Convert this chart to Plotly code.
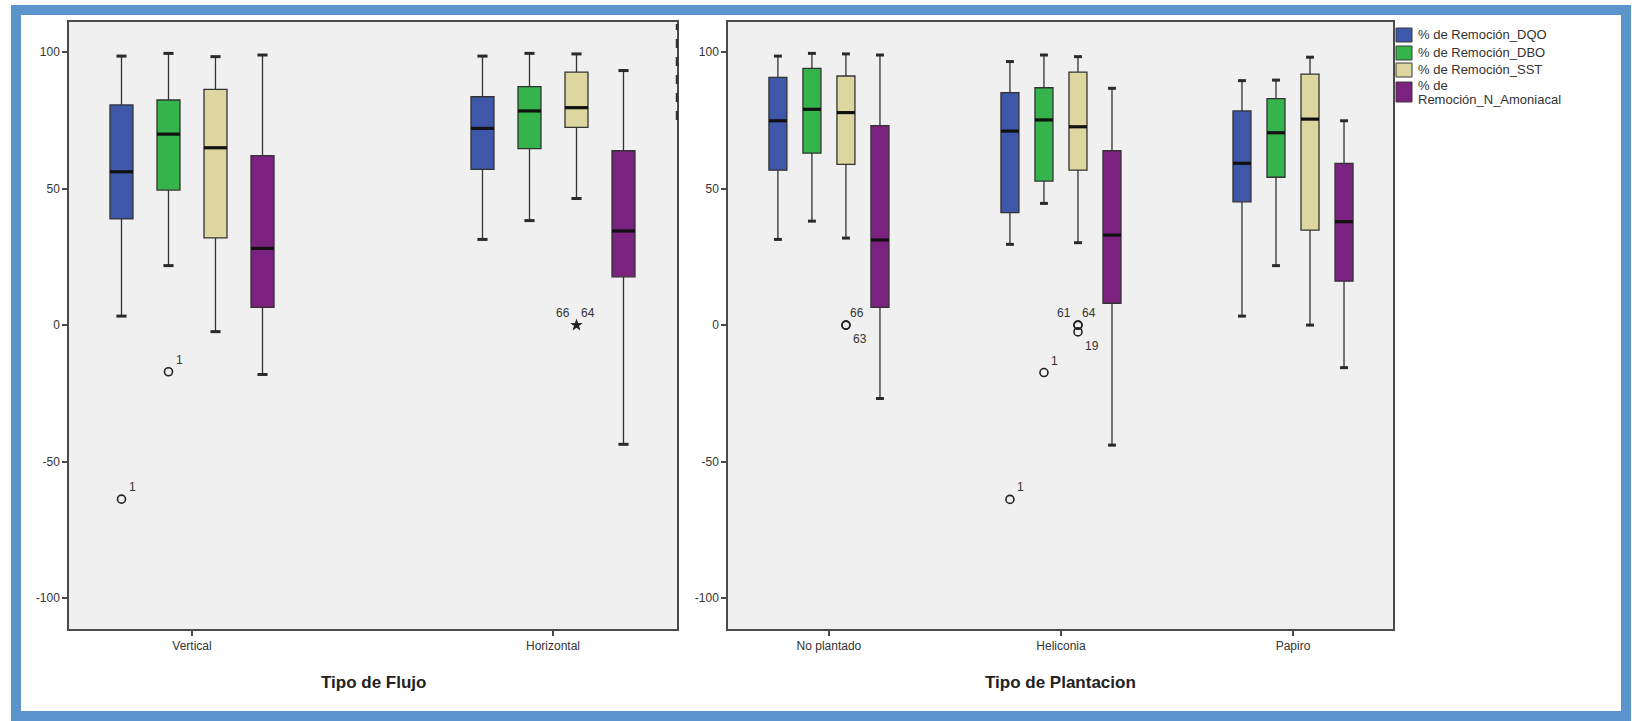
import plotly.graph_objects as go

W, H = 1632, 721
FONT = "Liberation Sans, Arial, sans-serif"

# ---------------- data ----------------
series_names = ["% de Remoción_DQO", "% de Remoción_DBO", "% de Remoción_SST",
                "% de<br>Remoción_N_Amoniacal"]
series_colors = ["#3E57A8", "#35B44B", "#DDD69E", "#7B2180"]

flujo_cats = ["Vertical", "Horizontal"]
# one inner list per series (DQO, DBO, SST, N_Amoniacal), one value per category
flujo_lower = [[3.3, 31.4], [21.8, 38.3], [-2.4, 46.4], [-18.1, -43.7]]
flujo_q1 = [[38.9, 57.1], [49.5, 64.7], [32.0, 72.5], [6.5, 17.7]]
flujo_median = [[56.2, 72.1], [70.0, 78.5], [65.0, 79.7], [28.1, 34.5]]
flujo_q3 = [[80.7, 83.7], [82.5, 87.4], [86.4, 92.7], [62.1, 63.9]]
flujo_upper = [[98.6, 98.6], [99.6, 99.6], [98.4, 99.4], [99.0, 93.3]]

plant_cats = ["No plantado", "Heliconia", "Papiro"]
plant_lower = [[31.4, 29.6, 3.3], [38.1, 44.6, 21.8], [31.9, 30.2, 0.0], [-26.9, -44.0, -15.6]]
plant_q1 = [[56.8, 41.2, 45.2], [63.0, 52.8, 54.2], [58.9, 56.8, 34.8], [6.5, 8.0, 16.1]]
plant_median = [[74.9, 71.1, 59.3], [79.1, 75.2, 70.5], [77.9, 72.7, 75.5], [31.2, 33.0, 37.9]]
plant_q3 = [[90.8, 85.2, 78.5], [94.1, 87.0, 83.0], [91.3, 92.7, 92.0], [73.1, 63.9, 59.3]]
plant_upper = [[98.6, 96.6, 89.6], [99.6, 99.0, 89.8], [99.4, 98.4, 98.2], [99.0, 86.8, 74.9]]

# outliers: category index, series index, value, case label, kind, label position
flujo_out_cat = [0, 0, 1, 1]
flujo_out_series = [0, 1, 2, 2]
flujo_out_value = [-63.8, -17.1, 0.0, 0.0]
flujo_out_label = ["1", "1", "66", "64"]
flujo_out_kind = ["o", "o", "*", "*"]
flujo_out_pos = ["ne", "ne", "nw", "ne"]

plant_out_cat = [0, 0, 1, 1, 1, 1, 1]
plant_out_series = [2, 2, 0, 1, 2, 2, 2]
plant_out_value = [0.0, 0.0, -63.9, -17.4, 0.0, 0.0, -2.5]
plant_out_label = ["66", "63", "1", "1", "61", "64", "19"]
plant_out_kind = ["o", "o", "o", "o", "o", "o", "o"]
plant_out_pos = ["ne", "se", "ne", "ne", "nw", "ne", "se"]

y_ticks = [100, 50, 0, -50, -100]
axis_titles = ["Tipo de Flujo", "Tipo de Plantacion"]

# ---------------- layout geometry (pixels) ----------------
def px_x(p):
    return p / W

def px_y(p):
    return 1 - p / H

left_dom = [px_x(69), px_x(677)]
right_dom = [px_x(728), px_x(1393)]
y_dom = [px_y(629), px_y(22)]

fig = go.Figure()

label_shift = {"ne": (11, 12), "nw": (-14, 12), "se": (14, -14), "sw": (-14, -14)}
EDGE = "#333333"


def add_panel(xa, ya, cats, lower, q1, med, q3, upper, slot, bw,
              o_cat, o_ser, o_val, o_lab, o_kind, o_pos):
    n = len(cats)
    for j in range(4):
        pos = [i + (j - 1.5) * slot for i in range(n)]
        fig.add_trace(go.Box(
            x=pos, lowerfence=lower[j], q1=q1[j], median=med[j], q3=q3[j],
            upperfence=upper[j], width=bw, fillcolor=series_colors[j],
            line=dict(color=EDGE, width=1.3), whiskerwidth=0,
            boxpoints=False, showlegend=False, hoverinfo="skip",
            name=series_names[j].replace("<br>", " "), xaxis=xa, yaxis=ya))
    # thick median bars and whisker caps
    mx, my, cx, cy = [], [], [], []
    cap = bw * 0.22
    for j in range(4):
        for i in range(n):
            c = i + (j - 1.5) * slot
            mx += [c - bw / 2, c + bw / 2, None]
            my += [med[j][i], med[j][i], None]
            for v in (lower[j][i], upper[j][i]):
                cx += [c - cap, c + cap, None]
                cy += [v, v, None]
    fig.add_trace(go.Scatter(x=mx, y=my, mode="lines",
                             line=dict(color="#111111", width=3.2),
                             showlegend=False, hoverinfo="skip",
                             xaxis=xa, yaxis=ya))
    fig.add_trace(go.Scatter(x=cx, y=cy, mode="lines",
                             line=dict(color="#2a2a2a", width=3),
                             showlegend=False, hoverinfo="skip",
                             xaxis=xa, yaxis=ya))
    # outliers
    for kind, sym, size, lw in [("o", "circle-open", 8, 1.6), ("*", "star", 9, 0)]:
        xs, ys = [], []
        for k in range(len(o_val)):
            if o_kind[k] == kind:
                xs.append(o_cat[k] + (o_ser[k] - 1.5) * slot)
                ys.append(o_val[k])
        if xs:
            fig.add_trace(go.Scatter(
                x=xs, y=ys, mode="markers",
                marker=dict(symbol=sym, size=size, color="#222222",
                            line=dict(color="#222222", width=lw)),
                showlegend=False, hoverinfo="skip", xaxis=xa, yaxis=ya))
    for k in range(len(o_val)):
        dx, dy = label_shift[o_pos[k]]
        fig.add_annotation(
            x=o_cat[k] + (o_ser[k] - 1.5) * slot, y=o_val[k],
            xref=xa, yref=ya, text=o_lab[k], showarrow=False,
            xshift=dx, yshift=dy, font=dict(family=FONT, size=12, color="#333333"))


add_panel("x", "y", flujo_cats, flujo_lower, flujo_q1, flujo_median, flujo_q3, flujo_upper,
          0.1302, 0.0637, flujo_out_cat, flujo_out_series, flujo_out_value,
          flujo_out_label, flujo_out_kind, flujo_out_pos)
add_panel("x2", "y2", plant_cats, plant_lower, plant_q1, plant_median, plant_q3, plant_upper,
          0.1466, 0.0776, plant_out_cat, plant_out_series, plant_out_value,
          plant_out_label, plant_out_kind, plant_out_pos)

axis_common = dict(showline=True, mirror=True, linecolor="#4a4a4a", linewidth=1.5,
                   showgrid=False, zeroline=False, ticks="outside", ticklen=5,
                   tickwidth=1.5, tickcolor="#4a4a4a",
                   tickfont=dict(family=FONT, size=12, color="#333333"))

fig.update_layout(
    width=W, height=H, margin=dict(l=0, r=0, t=0, b=0),
    paper_bgcolor="white", plot_bgcolor="#F0F0F0",
    showlegend=False,
    xaxis=dict(domain=left_dom, range=[-0.3407, 1.3435], tickmode="array",
               tickvals=list(range(len(flujo_cats))), ticktext=flujo_cats, **axis_common),
    yaxis=dict(domain=y_dom, range=[-111.4, 111.1], tickmode="array",
               tickvals=y_ticks, ticktext=[str(v) for v in y_ticks],
               anchor="x", **axis_common),
    xaxis2=dict(domain=right_dom, range=[-0.435, 2.431], tickmode="array",
                tickvals=list(range(len(plant_cats))), ticktext=plant_cats,
                anchor="y2", **axis_common),
    yaxis2=dict(domain=y_dom, range=[-111.4, 111.1], tickmode="array",
                tickvals=y_ticks, ticktext=[str(v) for v in y_ticks],
                anchor="x2", **axis_common),
)

# axis titles
for title, dom in zip(axis_titles, [left_dom, right_dom]):
    fig.add_annotation(x=(dom[0] + dom[1]) / 2, y=px_y(682), xref="paper", yref="paper",
                       text="<b>%s</b>" % title, showarrow=False,
                       font=dict(family=FONT, size=17, color="#222222"),
                       xanchor="center", yanchor="middle")

# legend drawn as colour keys + text
leg_top = [28, 46, 63, 82]
leg_bottom = [42, 60, 77, 102]
leg_line_y = [35, 53, 70, 86]
for name, col, t, b, ly in zip(series_names, series_colors, leg_top, leg_bottom, leg_line_y):
    fig.add_shape(type="rect", xref="paper", yref="paper",
                  x0=px_x(1396), x1=px_x(1412), y0=px_y(b), y1=px_y(t),
                  fillcolor=col, line=dict(color="#3a3a3a", width=1))
    for li, line_text in enumerate(name.split("<br>")):
        fig.add_annotation(x=px_x(1416), y=px_y(ly + 14 * li), xref="paper", yref="paper",
                           text=line_text, showarrow=False, xanchor="left", yanchor="middle",
                           align="left", font=dict(family=FONT, size=13, color="#333333"))

# dark dashed marks on the left panel's right border (as in the source image)
fig.add_shape(type="line", xref="paper", yref="paper",
              x0=px_x(677), x1=px_x(677), y0=px_y(120), y1=px_y(24),
              line=dict(color="#333333", width=2.5, dash="dash"))

# outer blue frame
fig.add_shape(type="rect", xref="paper", yref="paper",
              x0=px_x(16), x1=px_x(1626), y0=px_y(716), y1=px_y(10),
              line=dict(color="#5B95CC", width=10), fillcolor="rgba(0,0,0,0)")

fig.write_html("out.html", config={"displayModeBar": False},
               post_script="document.body.style.margin='0px';")
